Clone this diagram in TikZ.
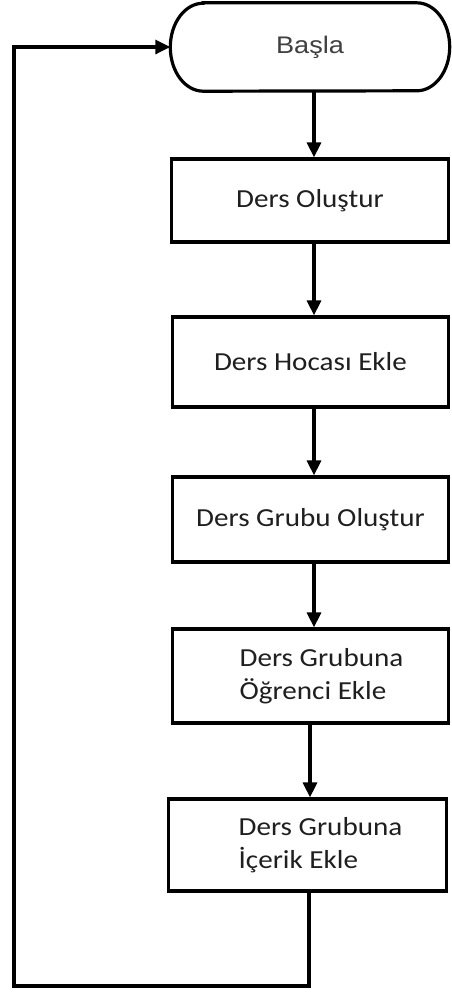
\documentclass[tikz,border=0pt]{standalone}
\usepackage{fontspec}
\usetikzlibrary{arrows.meta}
\newfontfamily\boxfont[FakeStretch=1.12]{Carlito}
\newfontfamily\startfont[FakeStretch=1.13]{Liberation Sans}
\begin{document}
\begin{tikzpicture}[x=1pt,y=1pt,
  line/.style={line width=3.2pt},
  arr/.style={line width=3.2pt,-{Triangle[length=15pt,width=14pt]}},
  stepbox/.style={draw,line width=3.2pt,rectangle,inner sep=0pt,
    font=\boxfont\fontsize{26}{33}\selectfont,text=black!88},
  startshape/.style={rectangle,inner sep=0pt,minimum width=279pt,minimum height=88pt,
    font=\startfont\fontsize{24}{28}\selectfont,text=black!75}]
\useasboundingbox (0,0) rectangle (451,-994);
\fill[white] (0,0) rectangle (451,-994);

% terminal
\node[startshape] (basla) at (310,-47) {\raisebox{-7pt}{Başla}};
\draw[line] ([xshift=33pt]basla.north west) -- ([xshift=-33pt]basla.north east)
  arc[start angle=90,end angle=-90,x radius=33pt,y radius=44pt]
  -- ([xshift=33pt]basla.south west)
  arc[start angle=270,end angle=90,x radius=33pt,y radius=44pt] -- cycle;

% process boxes
\node[stepbox,minimum width=277pt,minimum height=83pt] (olus) at (310,-200.5) {Ders Oluştur};
\node[stepbox,minimum width=276pt,minimum height=90pt] (hoca) at (310.5,-362) {Ders Hocası Ekle};
\node[stepbox,minimum width=276pt,minimum height=85pt] (grup) at (310.5,-519.5) {Ders Grubu Oluştur};
\node[stepbox,minimum width=276pt,minimum height=94pt,align=left] (ogr) at (310.5,-676)
  {\hspace*{22pt}Ders Grubuna\\\hspace*{22pt}Öğrenci Ekle};
\node[stepbox,minimum width=278pt,minimum height=92pt,align=left] (icer) at (307.5,-845)
  {\hspace*{26pt}Ders Grubuna\\\hspace*{26pt}İçerik Ekle};

% connectors
\draw[arr] ([xshift=4pt]basla.south) -- ([xshift=4pt]olus.north);
\draw[arr] ([xshift=4pt]olus.south) -- ([xshift=3.5pt]hoca.north);
\draw[arr] ([xshift=3.5pt]hoca.south) -- ([xshift=3.5pt]grup.north);
\draw[arr] ([xshift=3.5pt]grup.south) -- ([xshift=3.5pt]ogr.north);
\draw[arr] ([xshift=-0.5pt]ogr.south) -- ([xshift=2.5pt]icer.north);

\coordinate (lb) at (14,-986);
\coordinate (lt) at (14,-47);
\draw[arr] ([xshift=1.5pt]icer.south) |- (lb) -- (lt) -- (basla.west);
\end{tikzpicture}
\end{document}
